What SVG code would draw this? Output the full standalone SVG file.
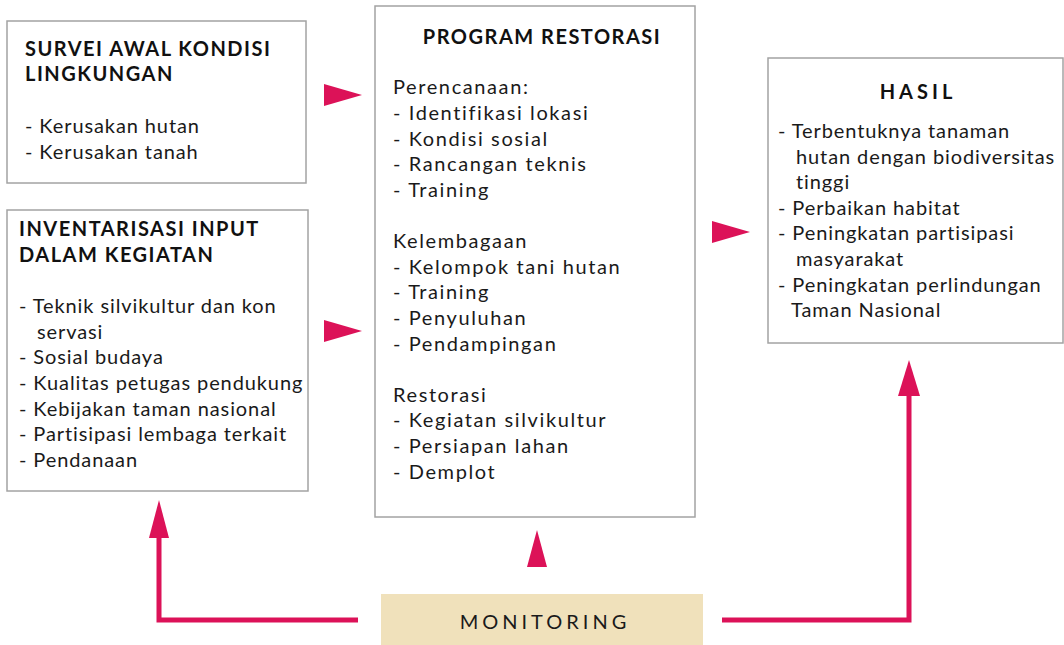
<svg xmlns="http://www.w3.org/2000/svg" width="1064" height="645" viewBox="0 0 1064 645">
  <style>
    .box { fill: #ffffff; stroke: #a3a3a3; stroke-width: 1.5; }
    .title { font-family: Lato, "Noto Sans", sans-serif; font-weight: bold; font-size: 20px; letter-spacing: 1.5px; fill: #111111; }
    .body { font-family: Lato, "Noto Sans", sans-serif; font-size: 20px; letter-spacing: 0.9px; fill: #1a1a1a; }
    .wide { letter-spacing: 1.6px; }
    .link { fill: none; stroke: #dc1258; stroke-width: 5; }
    .head { fill: #dc1258; }
  </style>

  <!-- connectors: monitoring feedback lines and flow arrowheads -->
  <g id="connectors">
    <polyline class="link" points="358,620 159,620 159,535"/>
    <polyline class="link" points="722,620 909,620 909,392"/>
    <polygon class="head" points="159,500 169,538 149,538"/>
    <polygon class="head" points="537,530 547,567 527,567"/>
    <polygon class="head" points="909,360 920,396 898,396"/>
    <polygon class="head" points="362,95 324,84 324,106"/>
    <polygon class="head" points="362,331 324,320 324,342"/>
    <polygon class="head" points="750,232 712,221 712,243"/>
  </g>

  <g id="survei">
    <rect class="box" x="7" y="21" width="299" height="162"/>
    <text class="title" x="25" y="56">SURVEI AWAL KONDISI</text>
    <text class="title" x="25" y="81">LINGKUNGAN</text>
    <text class="body" x="25" y="133">- Kerusakan hutan</text>
    <text class="body" x="25" y="159">- Kerusakan tanah</text>
  </g>

  <g id="inventarisasi">
    <rect class="box" x="7" y="210" width="301" height="281"/>
    <text class="title" x="19" y="236">INVENTARISASI INPUT</text>
    <text class="title" x="19" y="262">DALAM KEGIATAN</text>
    <text class="body" x="19" y="313">- Teknik silvikultur dan kon</text>
    <text class="body" x="37" y="339">servasi</text>
    <text class="body" x="19" y="364">- Sosial budaya</text>
    <text class="body" x="19" y="390">- Kualitas petugas pendukung</text>
    <text class="body" x="19" y="416">- Kebijakan taman nasional</text>
    <text class="body" x="19" y="441">- Partisipasi lembaga terkait</text>
    <text class="body" x="19" y="467">- Pendanaan</text>
  </g>

  <g id="program">
    <rect class="box" x="375" y="6" width="320" height="511"/>
    <text class="title" x="542" y="44" text-anchor="middle">PROGRAM RESTORASI</text>
    <g class="body wide">
      <text x="393" y="94">Perencanaan:</text>
      <text x="393" y="120">- Identifikasi lokasi</text>
      <text x="393" y="146">- Kondisi sosial</text>
      <text x="393" y="171">- Rancangan teknis</text>
      <text x="393" y="197">- Training</text>
      <text x="393" y="248">Kelembagaan</text>
      <text x="393" y="274">- Kelompok tani hutan</text>
      <text x="393" y="299">- Training</text>
      <text x="393" y="325">- Penyuluhan</text>
      <text x="393" y="351">- Pendampingan</text>
      <text x="393" y="402">Restorasi</text>
      <text x="393" y="427">- Kegiatan silvikultur</text>
      <text x="393" y="453">- Persiapan lahan</text>
      <text x="393" y="479">- Demplot</text>
    </g>
  </g>

  <g id="hasil">
    <rect class="box" x="768" y="58" width="295" height="285"/>
    <text class="title" x="918" y="99" text-anchor="middle" style="letter-spacing:4px">HASIL</text>
    <text class="body" x="778" y="138">- Terbentuknya tanaman</text>
    <text class="body" x="796" y="164">hutan dengan biodiversitas</text>
    <text class="body" x="796" y="189">tinggi</text>
    <text class="body" x="778" y="215">- Perbaikan habitat</text>
    <text class="body" x="778" y="240">- Peningkatan partisipasi</text>
    <text class="body" x="796" y="266">masyarakat</text>
    <text class="body" x="778" y="292">- Peningkatan perlindungan</text>
    <text class="body" x="791" y="317">Taman Nasional</text>
  </g>

  <g id="monitoring">
    <rect x="381" y="594" width="322" height="51" fill="#f0e1bb"/>
    <text class="body" x="545" y="629" text-anchor="middle" style="letter-spacing:4px">MONITORING</text>
  </g>
</svg>
